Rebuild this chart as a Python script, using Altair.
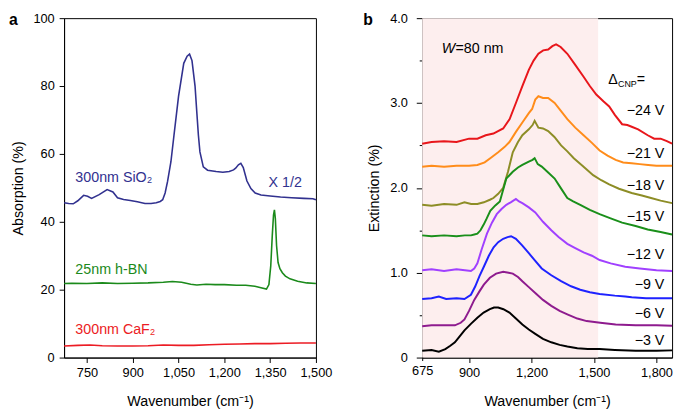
import altair as alt
import pandas as pd

FONT = "Liberation Sans"

# ---------------- Panel a data ----------------
sio2_x = [675, 690, 705, 720, 739, 752, 765, 790, 816, 835, 850, 870, 892, 915, 940, 960, 977, 990,
          998, 1006, 1014, 1025, 1035, 1050, 1067, 1078, 1086, 1094, 1104, 1110, 1115, 1120, 1131,
          1145, 1173, 1195, 1216, 1230, 1237, 1246, 1254, 1262, 1274, 1287, 1301, 1320, 1350, 1384,
          1420, 1460, 1490, 1500]
sio2_y = [45.6, 45.4, 45.3, 46.2, 47.8, 47.5, 46.9, 48.0, 49.5, 48.8, 47.1, 46.6, 46.3, 45.9, 45.4,
          45.4, 45.6, 46.0, 46.5, 48.5, 51.9, 57.7, 65.5, 77.0, 86.7, 88.8, 89.4, 87.5, 80.0, 72.0,
          65.5, 60.6, 56.2, 55.2, 54.8, 54.6, 54.8, 55.3, 55.8, 56.8, 57.2, 56.0, 52.0, 49.8, 48.5,
          47.9, 47.6, 47.3, 47.1, 46.9, 46.8, 46.5]

hbn_x = [675, 700, 750, 800, 850, 900, 950, 1000, 1030, 1060, 1090, 1110, 1140, 1170, 1200, 1240,
         1270, 1300, 1320, 1338, 1346, 1352, 1357, 1361, 1364, 1367, 1371, 1376, 1382, 1390, 1400,
         1415, 1440, 1470, 1500]
hbn_y = [21.8, 21.9, 21.8, 22.0, 21.8, 21.9, 22.0, 22.2, 22.4, 22.2, 21.6, 21.4, 21.6, 21.5, 21.5,
         21.3, 21.3, 21.0, 20.6, 20.2, 21.5, 27.0, 36.0, 42.0, 43.5, 41.0, 33.0, 28.0, 26.2, 25.0,
         24.0, 23.2, 22.5, 22.0, 21.8]

caf2_x = [675, 720, 760, 800, 850, 900, 950, 1000, 1050, 1100, 1150, 1200, 1250, 1300, 1350, 1400,
          1450, 1500]
caf2_y = [3.4, 3.6, 3.7, 3.5, 3.4, 3.4, 3.5, 3.7, 3.6, 3.6, 3.8, 3.9, 4.0, 4.1, 4.1, 4.2, 4.3, 4.3]

a_series = ["SiO2", "hBN", "CaF2"]
a_colors = ["#31318f", "#1b8a1b", "#ec1c24"]

a_labels = ["300nm SiO₂", "X 1/2", "25nm h-BN", "300nm CaF₂"]
a_label_x = [712, 1345, 712, 712]
a_label_y = [52.8, 51.4, 25.7, 8.1]
a_label_color = ["#31318f", "#31318f", "#1b8a1b", "#ec1c24"]

a_xticks = [750, 825, 900, 975, 1050, 1125, 1200, 1275, 1350, 1425, 1500]
a_yticks = [0, 10, 20, 30, 40, 50, 60, 70, 80, 90, 100]

# ---------------- Panel b data ----------------
b_curves = {
    "-24": ([675, 720, 780, 840, 900, 940, 980, 1017, 1064, 1095, 1125, 1156, 1187, 1210, 1233, 1256,
             1280, 1300, 1318, 1340, 1372, 1410, 1450, 1480, 1511, 1545, 1573, 1600, 1635, 1660, 1681,
             1712, 1758, 1789, 1820, 1850, 1875],
            [2.52, 2.54, 2.55, 2.54, 2.58, 2.58, 2.62, 2.64, 2.70, 2.81, 3.00, 3.20, 3.39, 3.50, 3.58,
             3.62, 3.63, 3.67, 3.69, 3.66, 3.58, 3.45, 3.31, 3.20, 3.10, 3.02, 2.96, 2.86, 2.75, 2.74,
             2.72, 2.69, 2.62, 2.58, 2.58, 2.55, 2.52]),
    "-21": ([675, 720, 780, 840, 900, 940, 975, 1002, 1040, 1070, 1094, 1125, 1156, 1187, 1203, 1218,
             1233, 1255, 1280, 1311, 1340, 1372, 1410, 1450, 1490, 1527, 1565, 1604, 1640, 1681, 1720,
             1760, 1800, 1840, 1875],
            [2.25, 2.26, 2.25, 2.26, 2.26, 2.27, 2.30, 2.35, 2.42, 2.48, 2.54, 2.66, 2.77, 2.88, 2.93,
             3.04, 3.08, 3.06, 3.06, 3.00, 2.91, 2.81, 2.71, 2.62, 2.53, 2.44, 2.38, 2.33, 2.30, 2.29,
             2.28, 2.27, 2.26, 2.26, 2.26]),
    "-18": ([675, 720, 780, 840, 878, 910, 940, 971, 1000, 1017, 1040, 1064, 1087, 1110, 1135, 1156,
             1187, 1205, 1215, 1233, 1255, 1280, 1310, 1342, 1372, 1403, 1450, 1496, 1535, 1573, 1620,
             1681, 1730, 1774, 1820, 1875],
            [1.80, 1.79, 1.81, 1.80, 1.83, 1.81, 1.81, 1.83, 1.86, 1.88, 1.93, 2.00, 2.19, 2.42, 2.54,
             2.62, 2.69, 2.74, 2.79, 2.71, 2.70, 2.67, 2.60, 2.50, 2.43, 2.35, 2.25, 2.15, 2.09, 2.04,
             1.99, 1.94, 1.91, 1.88, 1.85, 1.82]),
    "-15": ([675, 720, 780, 840, 880, 909, 925, 940, 955, 971, 985, 1002, 1025, 1048, 1079, 1110, 1135,
             1156, 1187, 1205, 1215, 1230, 1249, 1280, 1311, 1340, 1372, 1400, 1434, 1480, 1527, 1580,
             1635, 1700, 1758, 1820, 1875],
            [1.44, 1.43, 1.44, 1.43, 1.44, 1.44, 1.45, 1.46, 1.50, 1.57, 1.64, 1.73, 1.79, 1.84, 2.11,
             2.19, 2.24, 2.27, 2.31, 2.33, 2.35, 2.28, 2.25, 2.18, 2.11, 2.00, 1.88, 1.84, 1.80, 1.74,
             1.69, 1.64, 1.59, 1.55, 1.51, 1.48, 1.45]),
    "-12": ([675, 720, 780, 840, 880, 909, 925, 940, 960, 986, 1010, 1033, 1056, 1079, 1100, 1125, 1140,
             1156, 1187, 1218, 1255, 1295, 1330, 1372, 1410, 1450, 1490, 1527, 1580, 1650, 1720, 1800,
             1875],
            [1.03, 1.04, 1.02, 1.04, 1.03, 1.02, 1.05, 1.11, 1.27, 1.46, 1.59, 1.69, 1.75, 1.80, 1.83,
             1.87, 1.84, 1.82, 1.77, 1.71, 1.60, 1.50, 1.42, 1.34, 1.29, 1.24, 1.20, 1.15, 1.11, 1.07,
             1.05, 1.03, 1.02]),
    "-9": ([675, 720, 755, 790, 840, 878, 909, 930, 950, 971, 995, 1018, 1040, 1064, 1085, 1102, 1125,
            1156, 1187, 1218, 1249, 1295, 1342, 1390, 1434, 1480, 1527, 1600, 1650, 1681, 1750, 1820,
            1875],
           [0.69, 0.70, 0.72, 0.69, 0.70, 0.69, 0.74, 0.84, 0.96, 1.07, 1.20, 1.30, 1.36, 1.40, 1.42,
            1.43, 1.40, 1.32, 1.23, 1.14, 1.05, 0.97, 0.90, 0.84, 0.80, 0.77, 0.75, 0.73, 0.72, 0.71,
            0.70, 0.70, 0.70]),
    "-6": ([675, 720, 780, 832, 860, 878, 900, 925, 950, 971, 1000, 1030, 1064, 1090, 1110, 1135, 1156,
            1187, 1218, 1255, 1295, 1335, 1372, 1420, 1465, 1530, 1604, 1700, 1800, 1875],
           [0.37, 0.38, 0.38, 0.38, 0.41, 0.45, 0.55, 0.68, 0.78, 0.86, 0.94, 0.99, 1.01, 1.00, 0.99,
            0.95, 0.90, 0.83, 0.76, 0.68, 0.61, 0.55, 0.51, 0.46, 0.43, 0.41, 0.39, 0.38, 0.38, 0.375]),
    "-3": ([675, 720, 755, 786, 810, 832, 855, 878, 910, 940, 970, 1000, 1020, 1040, 1065, 1094, 1125,
            1156, 1187, 1218, 1255, 1295, 1335, 1372, 1420, 1470, 1527, 1600, 1700, 1800, 1875],
           [0.08, 0.09, 0.07, 0.10, 0.14, 0.18, 0.25, 0.32, 0.40, 0.47, 0.53, 0.57, 0.59, 0.59, 0.57,
            0.53, 0.46, 0.39, 0.33, 0.28, 0.22, 0.18, 0.15, 0.13, 0.11, 0.10, 0.10, 0.09, 0.08, 0.08,
            0.085]),
}
b_series = ["-24", "-21", "-18", "-15", "-12", "-9", "-6", "-3"]
b_colors = ["#e8161b", "#ff8c1a", "#8d8d26", "#1a8f1a", "#a040ff", "#1e22ff", "#8e1b8e", "#000000"]
b_labels = ["−24 V", "−21 V", "−18 V", "−15 V", "−12 V", "−9 V", "−6 V", "−3 V"]
b_label_y = [2.91, 2.40, 2.02, 1.66, 1.21, 0.85, 0.51, 0.20]
b_label_x = 1838

b_shade = [675, 1520]
b_xticks = [675, 750, 900, 1050, 1200, 1350, 1500, 1650, 1800]
b_xlabels = [675, 900, 1200, 1500, 1800]
b_yticks = [0, 0.5, 1.0, 1.5, 2.0, 2.5, 3.0, 3.5, 4.0]

WA, WB, H = 256, 254, 345
TXT = 14.5

# ---------------- build panel a ----------------
rows = []
for s, c, xs, ys in zip(a_series, a_colors, [sio2_x, hbn_x, caf2_x], [sio2_y, hbn_y, caf2_y]):
    for x, y in zip(xs, ys):
        rows.append({"series": s, "c": c, "x": x, "y": y})
df_a = pd.DataFrame(rows)

xa = alt.X("x:Q", scale=alt.Scale(domain=[675, 1500], nice=False, zero=False),
           axis=alt.Axis(values=a_xticks, title="Wavenumber (cm⁻¹)",
                         labelExpr="datum.value % 150 == 0 ? format(datum.value, ',') : ''",
                         labelOverlap=False, labelFlush=False,
                         tickSize={"condition": {"test": "datum.value % 150 == 0", "value": 5}, "value": 3},
                         labelPadding=4, titlePadding=16))
ya = alt.Y("y:Q", scale=alt.Scale(domain=[0, 100], nice=False),
           axis=alt.Axis(values=a_yticks, title="Absorption (%)",
                         labelExpr="datum.value % 20 == 0 ? format(datum.value, 'd') : ''",
                         labelOverlap=False,
                         tickSize={"condition": {"test": "datum.value % 20 == 0", "value": 5}, "value": 3},
                         labelPadding=5, titlePadding=8))

lines_a = alt.Chart(df_a).mark_line(strokeWidth=1.6).encode(
    x=xa, y=ya, color=alt.Color("c:N", scale=None), detail="series:N")
df_al = pd.DataFrame({"x": a_label_x, "y": a_label_y, "t": a_labels, "c": a_label_color})
text_a = alt.Chart(df_al).mark_text(align="left", baseline="middle", fontSize=TXT, font=FONT).encode(
    x="x:Q", y="y:Q", text="t:N", color=alt.Color("c:N", scale=None))
tag_a = alt.Chart(pd.DataFrame({"t": ["a"]})).mark_text(
    align="left", baseline="alphabetic", fontSize=16, fontWeight="bold", font=FONT).encode(
    x=alt.value(-56), y=alt.value(7), text="t:N")

panel_a = alt.layer(lines_a, text_a, tag_a).properties(width=WA, height=H)

# ---------------- build panel b ----------------
rows = []
for s, c in zip(b_series, b_colors):
    xs, ys = b_curves[s]
    for x, y in zip(xs, ys):
        rows.append({"series": s, "c": c, "x": x, "y": y})
df_b = pd.DataFrame(rows)

xb = alt.X("x:Q", scale=alt.Scale(domain=[675, 1875], nice=False, zero=False),
           axis=alt.Axis(values=b_xticks, title="Wavenumber (cm⁻¹)",
                         labelExpr="indexof(" + str(b_xlabels) + ", datum.value) >= 0 ? format(datum.value, ',') : ''",
                         labelOverlap=False, labelFlush=False,
                         tickSize={"condition": {"test": "datum.value % 300 == 0", "value": 5}, "value": 3},
                         labelPadding=4, titlePadding=16))
yb = alt.Y("y:Q", scale=alt.Scale(domain=[0, 4], nice=False),
           axis=alt.Axis(values=b_yticks, title="Extinction (%)",
                         labelExpr="datum.value == 0 ? '0' : (datum.value % 1 == 0 ? format(datum.value, '.1f') : '')",
                         labelOverlap=False,
                         tickSize={"condition": {"test": "datum.value % 1 == 0", "value": 6}, "value": 3},
                         labelPadding=9, titlePadding=8))

shade = alt.Chart(pd.DataFrame({"x": [b_shade[0]], "x2": [b_shade[1]], "y": [0], "y2": [4]})).mark_rect(
    color="#fdeeee").encode(x=xb, x2="x2:Q", y=yb, y2="y2:Q")
lines_b = alt.Chart(df_b).mark_line(strokeWidth=2.0).encode(
    x="x:Q", y="y:Q", color=alt.Color("c:N", scale=None), detail="series:N")
df_bl = pd.DataFrame({"x": [b_label_x] * len(b_labels), "y": b_label_y, "t": b_labels})
text_b = alt.Chart(df_bl).mark_text(align="right", baseline="middle", fontSize=TXT, font=FONT).encode(
    x="x:Q", y="y:Q", text="t:N")

ann = pd.DataFrame({"x": [769], "y": [3.63]})
w_it = alt.Chart(ann).mark_text(align="left", baseline="middle", fontSize=TXT, font=FONT,
                                fontStyle="italic", text="W").encode(x="x:Q", y="y:Q")
w_rest = alt.Chart(ann).mark_text(align="left", baseline="middle", fontSize=TXT, font=FONT,
                                  text="=80 nm", dx=14).encode(x="x:Q", y="y:Q")
dann = pd.DataFrame({"x": [1568], "y": [3.27]})
d1 = alt.Chart(dann).mark_text(align="left", baseline="middle", fontSize=TXT, font=FONT,
                               text="Δ").encode(x="x:Q", y="y:Q")
d2 = alt.Chart(dann).mark_text(align="left", baseline="middle", fontSize=9, font=FONT,
                               text="CNP", dx=10, dy=4).encode(x="x:Q", y="y:Q")
d3 = alt.Chart(dann).mark_text(align="left", baseline="middle", fontSize=TXT, font=FONT,
                               text="=", dx=29).encode(x="x:Q", y="y:Q")
tag_b = alt.Chart(pd.DataFrame({"t": ["b"]})).mark_text(
    align="left", baseline="alphabetic", fontSize=16, fontWeight="bold", font=FONT).encode(
    x=alt.value(-60), y=alt.value(7), text="t:N")

panel_b = alt.layer(shade, lines_b, text_b, w_it, w_rest, d1, d2, d3, tag_b).properties(width=WB, height=H)

chart = alt.hconcat(panel_a, panel_b, spacing=30).properties(
    padding={"left": 0, "top": 0, "right": 0, "bottom": 0}
).configure_view(stroke="black", strokeWidth=1).configure_axis(
    grid=False, domainColor="black", tickColor="black", labelColor="black",
    labelFont=FONT, labelFontSize=13, titleFont=FONT, titleFontSize=TXT,
    titleFontWeight="normal", titleColor="black", domainWidth=1, tickWidth=1,
)

chart.save("out.html", embed_options={"renderer": "svg", "actions": False})
